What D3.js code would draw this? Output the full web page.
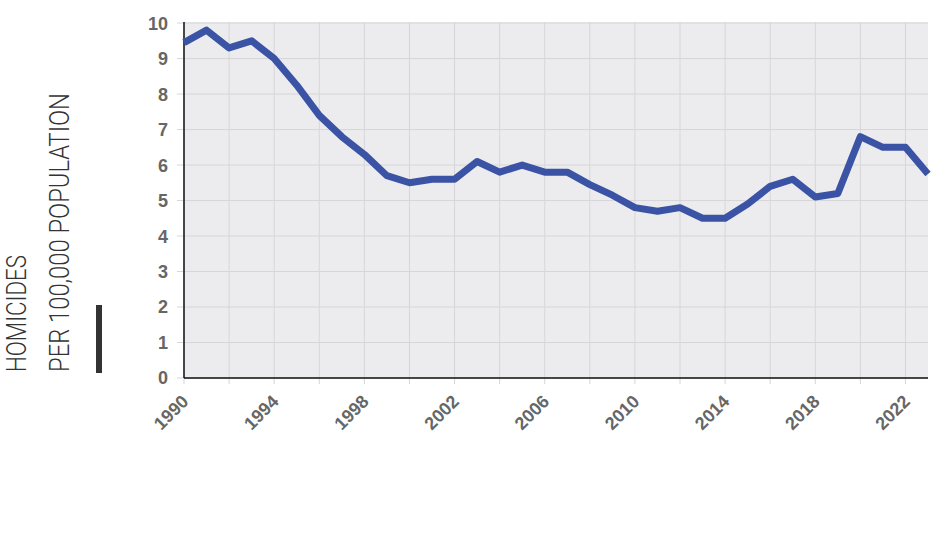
<!DOCTYPE html>
<html>
<head>
<meta charset="utf-8">
<script src="https://cdn.jsdelivr.net/npm/d3@7"></script>
<style>
  body { margin: 0; background: #fff; }
</style>
</head>
<body>
<svg id="chart"></svg>
<script>
// homicides per 100,000
const years = [1990, 1991, 1992, 1993, 1994, 1995, 1996, 1997, 1998, 1999,
               2000, 2001, 2002, 2003, 2004, 2005, 2006, 2007, 2008, 2009,
               2010, 2011, 2012, 2013, 2014, 2015, 2016, 2017, 2018, 2019,
               2020, 2021, 2022, 2023];
const rates = [9.45, 9.8, 9.3, 9.5, 9.0, 8.25, 7.4, 6.8, 6.3, 5.7,
               5.5, 5.6, 5.6, 6.1, 5.8, 6.0, 5.8, 5.8, 5.45, 5.15,
               4.8, 4.7, 4.8, 4.5, 4.5, 4.9, 5.4, 5.6, 5.1, 5.2,
               6.8, 6.5, 6.5, 5.75];
const yTicks = [0, 1, 2, 3, 4, 5, 6, 7, 8, 9, 10];
const xLabelYears = [1990, 1994, 1998, 2002, 2006, 2010, 2014, 2018, 2022];
const xGridYears = d3.range(1990, 2024, 2);
const titleLines = ['HOMICIDES', 'PER 100,000 POPULATION'];

const W = 950, H = 540;
const margin = { top: 22, right: 22, bottom: 162, left: 184 };
const width = W - margin.left - margin.right;
const height = H - margin.top - margin.bottom;

const svg = d3.select('#chart').attr('width', W).attr('height', H);
const g = svg.append('g').attr('transform', `translate(${margin.left},${margin.top})`);

const x = d3.scaleLinear().domain([1990, 2023]).range([0, width]);
const y = d3.scaleLinear().domain([0, 10.03]).range([height, 0]);

g.append('rect').attr('width', width).attr('height', height).attr('fill', '#ececef');

// grid
g.selectAll('.hgrid').data(yTicks).join('line').attr('class', 'hgrid')
  .attr('x1', -7).attr('x2', width)
  .attr('y1', d => y(d)).attr('y2', d => y(d))
  .attr('stroke', '#d6d6da').attr('stroke-width', 1);

g.selectAll('.vgrid').data(xGridYears).join('line').attr('class', 'vgrid')
  .attr('x1', d => x(d)).attr('x2', d => x(d))
  .attr('y1', 0).attr('y2', height + 6)
  .attr('stroke', '#d6d6da').attr('stroke-width', 1);

const labelFont = sel => sel
  .style('font-family', 'Liberation Sans, Arial, sans-serif')
  .style('font-weight', 'bold').style('font-size', '18px').style('fill', '#666');

// y labels
g.selectAll('.ylab').data(yTicks).join('text').attr('class', 'ylab')
  .attr('x', -16).attr('y', d => y(d)).attr('dy', '0.36em')
  .attr('text-anchor', 'end')
  .call(labelFont)
  .text(d => d);

// x labels rotated
g.selectAll('.xlab').data(xLabelYears).join('text').attr('class', 'xlab')
  .attr('transform', d => `translate(${x(d) + 1},${height + 20}) rotate(-45)`)
  .attr('text-anchor', 'end').attr('dy', '0.36em')
  .call(labelFont)
  .text(d => d);

// axis lines
g.append('line').attr('x1', 0).attr('x2', 0).attr('y1', 0).attr('y2', height)
  .attr('stroke', '#111').attr('stroke-width', 1.5);
g.append('line').attr('x1', 0).attr('x2', width).attr('y1', height).attr('y2', height)
  .attr('stroke', '#111').attr('stroke-width', 1.5);

const line = d3.line().x((d, i) => x(years[i])).y(d => y(d));
g.append('path').datum(rates).attr('d', line)
  .attr('fill', 'none').attr('stroke', '#3a53a4').attr('stroke-width', 7)
  .attr('stroke-linejoin', 'round');

// rotated title
const title = svg.append('g').attr('transform', 'translate(0,372) rotate(-90)');
const titleLens = [117, 279];
titleLines.forEach((t, i) => {
  title.append('text')
    .attr('x', 0).attr('y', 26 + i * 43)
    .attr('textLength', titleLens[i]).attr('lengthAdjust', 'spacingAndGlyphs')
    .style('font-family', 'Roboto, sans-serif').style('font-weight', 300)
    .style('font-size', '27px').style('fill', '#333')
    .text(t);
});

svg.append('rect').attr('x', 96).attr('y', 305).attr('width', 6).attr('height', 68)
  .attr('fill', '#333');
</script>
</body>
</html>
